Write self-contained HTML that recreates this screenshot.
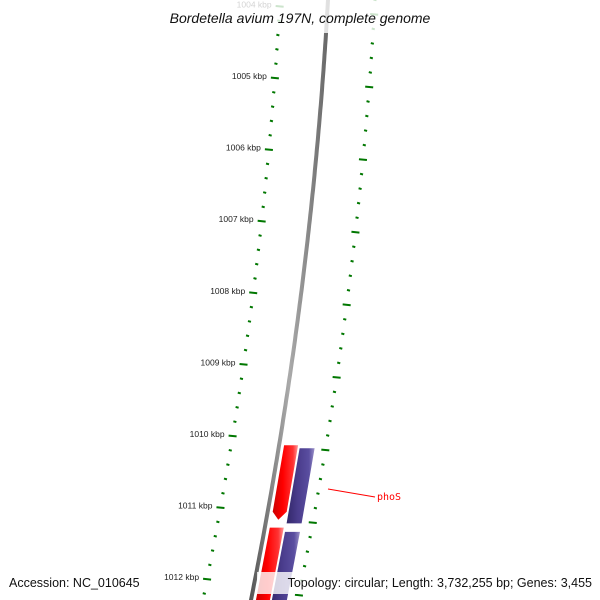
<!DOCTYPE html>
<html><head><meta charset="utf-8"><style>
html,body{margin:0;padding:0;background:#fff;}
svg{display:block;font-family:"Liberation Sans","DejaVu Sans",sans-serif;}
</style></head><body>
<svg id="chart" width="600" height="600" viewBox="0 0 600 600">
<defs>
<linearGradient id="bb" x1="0" x2="1" y1="0" y2="0"><stop offset="0" stop-color="#555"/><stop offset="0.5" stop-color="#aaa"/><stop offset="1" stop-color="#666"/></linearGradient>
<linearGradient id="rg" x1="0" x2="1" y1="0" y2="0"><stop offset="0" stop-color="#c00"/><stop offset="0.4" stop-color="#f00"/><stop offset="0.8" stop-color="#f33"/><stop offset="1" stop-color="#f99"/></linearGradient>
<linearGradient id="bg" x1="0" x2="1" y1="0" y2="0"><stop offset="0" stop-color="#33286a"/><stop offset="0.4" stop-color="#4a3c8c"/><stop offset="0.8" stop-color="#5a4ea0"/><stop offset="1" stop-color="#9a90c8"/></linearGradient>
</defs>
<g id="layer"></g>
</svg>
<script>
var majorTicks=[1004,1005,1006,1007,1008,1009,1010,1011,1012];
var tickLabels=["1004 kbp","1005 kbp","1006 kbp","1007 kbp","1008 kbp","1009 kbp","1010 kbp","1011 kbp","1012 kbp"];
var fwdGeneStart=[1010.13,1011.28];
var fwdGeneEnd=[1011.17,1012.4];
var revGeneStart=[1010.17,1011.34];
var revGeneEnd=[1011.22,1012.4];
var geneLabels=["phoS"];

var NS="http://www.w3.org/2000/svg";
var g=document.getElementById('layer');
function bx(y){return 328-0.0564*y-0.00012*y*y;}
function yL(k){return 78+(k-1005)*71.6;}
function yR(k){return 87+(k-1005)*72.6;}
function mk(t,a){var e=document.createElementNS(NS,t);for(var k in a)e.setAttribute(k,a[k]);g.appendChild(e);return e;}

// backbone
var d="";for(var y=-5;y<=605;y+=5){d+=(y<0?"M":"L")+bx(y).toFixed(1)+","+y;}
var bb=mk('path',{d:d,stroke:'url(#bb)','stroke-width':4,fill:'none'});



// ticks
for(var k=1003.8;k<=1012.61;k+=0.2){
  var kk=Math.round(k*10)/10;
  var major=Math.abs(kk-Math.round(kk))<0.01;
  [[yL,-48],[yR,47]].forEach(function(tr,i){
    var y=tr[0](kk);if(y<-5||y>605)return;
    var x=bx(y)+tr[1];
    var w=major?8:3;
    var t=mk('line',{x1:x-w/2,y1:y-0.4,x2:x+w/2,y2:y+0.4,stroke:'#007700','stroke-width':2});
    
    
  });
}
majorTicks.forEach(function(k,i){
  var y=yL(k);var x=bx(y)-48-8;
  var t=mk('text',{x:x,y:y+1,'font-size':'8.5','text-anchor':'end',fill:'#222'});
  t.textContent=tickLabels[i];
  
  
});

// genes
function gene(s,e,o1,o2,fill,arrowEnd){
  var y1=yL(s),y2=yL(e);
  var p;
  if(arrowEnd){var ym=y2-8;
    p=[[bx(y1)+o1,y1],[bx(y1)+o2,y1],[bx(ym)+o2,ym],[bx(y2)+(o1+o2)/2,y2],[bx(ym)+o1,ym]];
  } else p=[[bx(y1)+o1,y1],[bx(y1)+o2,y1],[bx(y2)+o2,y2],[bx(y2)+o1,y2]];
  return mk('polygon',{points:p.map(function(q){return q[0].toFixed(1)+","+q[1].toFixed(1);}).join(" "),fill:fill});
}
for(var i=0;i<fwdGeneStart.length;i++){
  var r=gene(fwdGeneStart[i],fwdGeneEnd[i],5,19,'url(#rg)',true);
  
  
}
for(var i=0;i<revGeneStart.length;i++){
  var b=gene(revGeneStart[i],revGeneEnd[i],21,36,'url(#bg)',false);
  
  
}
var ln=mk('line',{x1:328,y1:489,x2:375,y2:497,stroke:'#f00','stroke-width':1});


var gl=mk('text',{x:377,y:500,'font-size':'10',fill:'#f00','font-family':'"DejaVu Sans Mono","Liberation Mono",monospace'});
gl.textContent=geneLabels[0];



// overlays
var tb=mk('rect',{x:152,y:0,width:296,height:33,fill:'#fff','fill-opacity':0.8});


var tt=mk('text',{x:300,y:23,'font-size':'14','font-style':'italic','text-anchor':'middle',fill:'#111'});
tt.textContent="Bordetella avium 197N, complete genome";


var ab=mk('rect',{x:5,y:572,width:142,height:22,fill:'#fff','fill-opacity':0.8});


var at=mk('text',{x:9,y:587,'font-size':'12.5',fill:'#111'});
at.textContent="Accession: NC_010645";


var pb=mk('rect',{x:257,y:572,width:339,height:22,fill:'#fff','fill-opacity':0.8});


var pt=mk('text',{x:592,y:587,'font-size':'12.5','text-anchor':'end',fill:'#111'});
pt.textContent="Topology: circular; Length: 3,732,255 bp; Genes: 3,455";


</script>
</body></html>
